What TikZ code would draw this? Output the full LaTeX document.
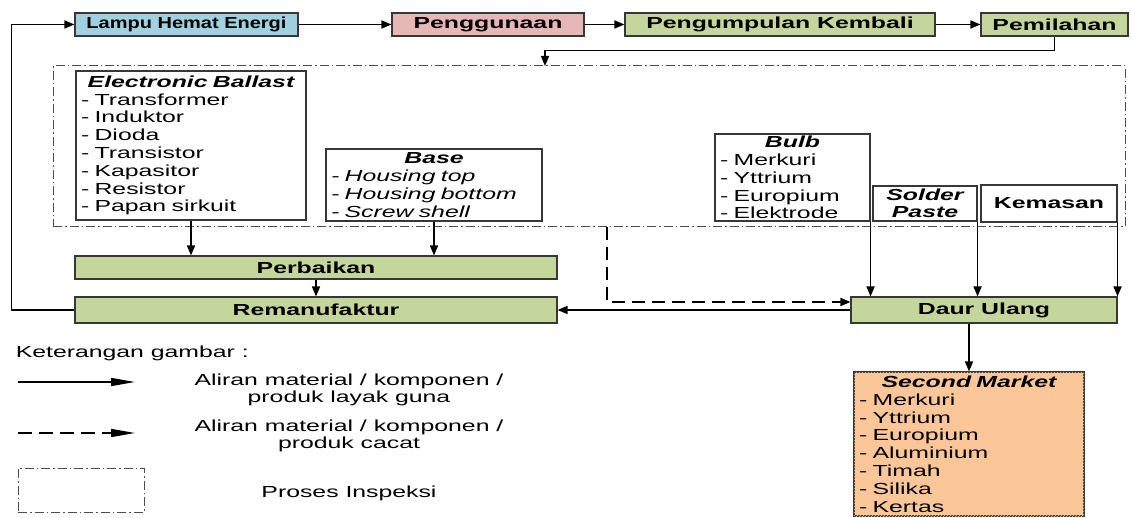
\documentclass[tikz,border=0pt]{standalone}
\usepackage{fontspec}
\setmainfont{Liberation Sans}[FakeStretch=1.55]
\usetikzlibrary{positioning,arrows.meta,patterns,calc}

\definecolor{lampblue}{RGB}{160,209,224}
\definecolor{usepink}{RGB}{230,183,182}
\definecolor{procgreen}{RGB}{196,214,155}
\definecolor{marketorange}{RGB}{250,199,160}
\definecolor{edgegray}{RGB}{55,55,55}

\newcommand{\boxtitle}[1]{\makebox[\linewidth][c]{\bfseries\itshape #1}}

\begin{document}
\begin{tikzpicture}[x=1pt,y=-1pt,->,>={Triangle[length=10pt,width=8pt]},line width=1.6pt,
    proc/.style={draw=edgegray,line width=1.1pt,font=\fontsize{16}{18}\selectfont\bfseries,inner sep=0pt,minimum height=23pt},
    comp/.style={draw=edgegray,line width=1.1pt,fill=white,align=left,inner xsep=5pt,inner ysep=0pt,font=\fontsize{16}{17.8}\selectfont},
    inspect/.style={draw=black!70,line width=1pt,inner sep=0pt,dash pattern=on 9pt off 3pt on 1.5pt off 3pt},
    note/.style={font=\fontsize{16}{17}\selectfont,align=center,inner sep=0pt}]

    \useasboundingbox (0,0) rectangle (1132,518);

    % Main flow
    \node [proc,fill=lampblue,minimum width=223pt,font=\fontsize{16}{18}\selectfont\bfseries\addfontfeature{FakeStretch=1.25}] at (186.5,24.5) (lampu) {Lampu Hemat Energi};
    \node [proc,fill=usepink,minimum width=192pt] at (488,24.5) (guna) {Penggunaan};
    \node [proc,fill=procgreen,minimum width=310pt] at (780,24.5) (kumpul) {Pengumpulan Kembali};
    \node [proc,fill=procgreen,minimum width=147pt] at (1054.5,24.5) (pilah) {Pemilahan};

    % Inspection area
    \node [inspect,minimum width=1072pt,minimum height=161pt] at (589,146.5) (insp) {};
    \coordinate (drop) at (545,66);
    \coordinate (cacat) at (607,227);

    \node [comp,text width=220pt,minimum height=149pt] at (191,145.5) (ballast) {\boxtitle{Electronic Ballast}\\- Transformer\\- Induktor\\- Dioda\\- Transistor\\- Kapasitor\\- Resistor\\- Papan sirkuit};
    \node [comp,text width=206pt,minimum height=72pt] at (434,185) (base) {\boxtitle{Base}\\\itshape - Housing top\\- Housing bottom\\- Screw shell};
    \node [comp,text width=145pt,minimum height=87pt] at (792.5,177.5) (bulb) {\boxtitle{Bulb}\\- Merkuri\\- Yttrium\\- Europium\\- Elektrode};
    \node [comp,align=center,text width=94pt,minimum height=35pt,font=\fontsize{16}{17}\selectfont\bfseries\itshape] at (925,203.5) (solder) {Solder\\Paste};
    \node [comp,align=center,text width=126pt,minimum height=37pt,font=\fontsize{16}{17}\selectfont\bfseries] at (1049,203.5) (kemas) {Kemasan};

    % Recovery
    \node [proc,fill=procgreen,minimum width=482pt] at (316,267.5) (perbaikan) {Perbaikan};
    \node [proc,fill=procgreen,minimum width=482pt,minimum height=26pt] at (316,310) (reman) {Remanufaktur};
    \node [proc,fill=procgreen,minimum width=266pt,minimum height=26pt] at (984,310) (daur) {Daur Ulang};
    \node [comp,fill=marketorange,postaction={pattern=north east lines,pattern color=orange!45},text width=220pt,minimum height=144pt] at (969,444) (market) {\boxtitle{Second Market}\\- Merkuri\\- Yttrium\\- Europium\\- Aluminium\\- Timah\\- Silika\\- Kertas};

    % Legend
    \node [note,anchor=west] at (15,353) (ket) {Keterangan gambar :};
    \coordinate (solidA) at (18,382);
    \coordinate (solidB) at (135,382);
    \coordinate (dashA) at (18,433);
    \coordinate (dashB) at (135,433);
    \node [inspect,minimum width=126pt,minimum height=44pt] at (81,490) (leginsp) {};
    \node [note] at (349,390) (ketsolid) {Aliran material / komponen /\\produk layak guna};
    \node [note] at (349,436) (ketdash) {Aliran material / komponen /\\produk cacat};
    \node [note] at (349,493) (ketinsp) {Proses Inspeksi};

    % Flow branches
    \path[->]
    (lampu) edge (guna)
    (guna) edge (kumpul)
    (kumpul) edge (pilah)
    (ballast.south) edge (ballast.south |- perbaikan.north)
    (base.south) edge (base.south |- perbaikan.north)
    (perbaikan) edge (reman)
    (daur) edge (reman)
    (bulb.south east) edge (bulb.south east |- daur.north)
    (solder.south east) edge (solder.south east |- daur.north)
    (kemas.south east) edge (kemas.south east |- daur.north)
    (market.north |- daur.south) edge (market.north);

    \draw[->] (pilah.south) -- ++(0,14) -| (drop);
    \draw[->] (reman.west) -- ++(-63,0) |- (lampu.west);
    \draw[->,dash pattern=on 13pt off 7pt] (cacat) |- ($(daur.west)+(0,-8)$);

    \path[->,>={Triangle[length=24pt,width=8pt]}]
    (solidA) edge (solidB)
    (dashA) edge[dash pattern=on 14pt off 7pt] (dashB);
\end{tikzpicture}
\end{document}
